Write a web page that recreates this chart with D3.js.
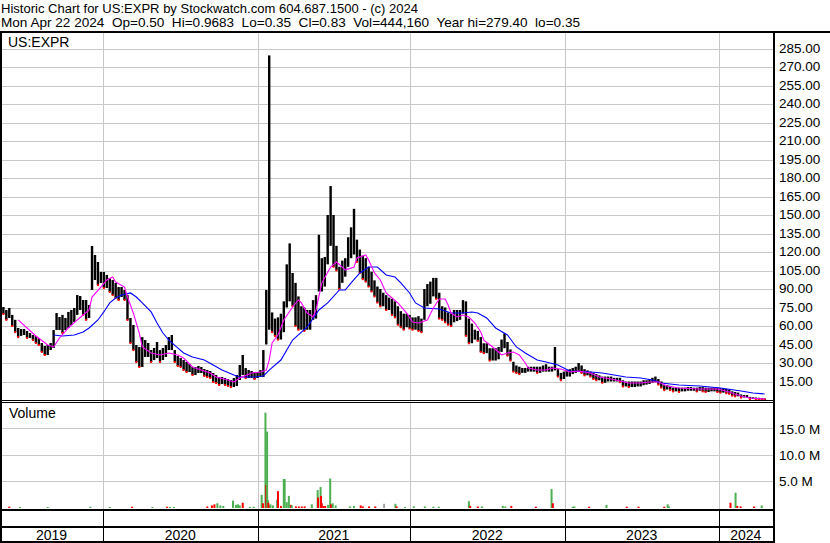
<!DOCTYPE html>
<html>
<head>
<meta charset="utf-8">
<script src="https://cdn.jsdelivr.net/npm/d3@7"></script>
<style>
  body { margin: 0; background: #fff; }
  svg { display: block; font-family: "Liberation Sans", Arial, sans-serif; }
  text { white-space: pre; }
</style>
</head>
<body>
<svg id="chart" width="830" height="543"></svg>
<script>
// header texts
const titleLine = "Historic Chart for US:EXPR by Stockwatch.com 604.687.1500 - (c) 2024";
const quoteLine = "Mon Apr 22 2024  Op=0.50  Hi=0.9683  Lo=0.35  Cl=0.83  Vol=444,160  Year hi=279.40  lo=0.35";
const symbol = "US:EXPR";

const years = [2019, 2020, 2021, 2022, 2023, 2024];
const priceTicks = [15, 30, 45, 60, 75, 90, 105, 120, 135, 150, 165, 180, 195, 210, 225, 240, 255, 270, 285];
const volTicks = [5, 10, 15];

// weekly high / low, one value per week ending Friday, May 3 2019 .. Apr 19 2024
const weekHigh = [
  77, 75.4, 73, 74.6, 69, 65, 58.4, 57.6, 57.6, 56, 54.3, 52.7, 52, 50.3, 46.2, 43.8, 44.6, 46.2, 56.8, 70.5,
  67.3, 69, 66.5, 71.4, 73, 74.6, 85.1, 84.3, 81.1, 81.1, 77, 124.9, 117.6, 111.9, 103.8, 103.8, 101.4, 98.9, 97.3, 94.9,
  91.6, 91.6, 89.2, 85.1, 66.5, 60.8, 44.6, 43, 51, 48.6, 46.2, 40.5, 42.2, 47, 40.5, 42.2, 44.6, 51, 52.7, 40.5,
  35.7, 34, 32.4, 30.8, 29.2, 26.8, 26.8, 27.6, 26.8, 25.1, 24.3, 23.5, 21.9, 20.3, 18.6, 18.6, 17.8, 17, 16.2, 17.8,
  20.3, 28.4, 36.5, 25.9, 24.3, 23.5, 22.7, 22.7, 24.3, 40.5, 89.2, 279.4, 71, 66, 67, 70, 80, 110, 127, 103,
  95, 84, 76, 75, 73, 73, 81, 85, 134, 115, 116, 150, 173.5, 150, 125, 108, 113, 115, 132, 140,
  155, 130, 122, 117, 115, 108, 104, 97, 92, 90, 87, 85, 83, 82, 80, 76, 72, 70, 70, 69,
  67, 67, 68, 66, 90, 94, 96, 99, 99, 87, 76, 75, 71, 70, 73, 73, 73, 81, 80, 66,
  62, 57, 56, 51, 46, 46, 42, 42, 42, 43, 49, 54, 47, 41, 31, 28, 27, 26, 26, 27,
  27, 27, 27, 27, 28, 29, 27, 27, 43, 25, 22, 23, 24, 25, 26, 27, 30, 28, 25, 24,
  23, 22, 21, 20, 19, 19, 19, 19, 18, 18, 18, 16, 15, 15, 15, 15, 15, 15, 16, 16,
  17, 18, 19, 17, 15, 12, 12, 11.5, 10, 10, 10, 10, 10, 10.5, 10.5, 10, 10, 10.5, 10.5, 10,
  10, 10, 10, 10, 9.5, 9.5, 9, 8.5, 7, 6.5, 6, 4.5, 4, 4, 2.5, 2.2, 2, 1.8, 1.5, 1.2
];
const weekLow = [
  70.5, 69.7, 65, 66.5, 60, 55, 51, 52, 52.7, 50.3, 50.3, 48.6, 46.2, 44.6, 39, 36.5, 36.5, 40.5, 42.2, 56.8,
  56.8, 54.3, 56.8, 58.4, 60.8, 63.2, 69, 73, 69, 65, 66.5, 89.2, 97.3, 93.2, 94.9, 90.8, 90.8, 87.6, 85.1, 82.7,
  81.1, 83.5, 81.1, 64.9, 46.2, 40.5, 30.8, 26.8, 26.8, 34.9, 34.9, 30.8, 32.4, 34, 30.8, 32.4, 34.9, 40.5, 40.5, 30.8,
  27.6, 26.8, 24.3, 22.7, 22.7, 20.3, 20.3, 21.9, 21.9, 19.5, 18.6, 17.8, 14.6, 13.8, 12.2, 13, 12.2, 11.4, 10.5, 10.5,
  11.4, 16.2, 20.3, 17.8, 17.8, 17.8, 17, 17.8, 18.6, 18.6, 45, 57, 55, 52, 49, 49, 55, 75, 80, 76,
  60, 57, 57, 56, 57, 57, 65, 66, 88, 88, 92, 110, 125, 108, 105, 90, 95, 100, 108, 115,
  118, 112, 103, 98, 96, 92, 88, 84, 79, 76, 76, 73, 73, 69, 67, 61, 59, 57, 59, 58,
  57, 57, 56, 55, 65, 76, 78, 84, 82, 66, 65, 63, 61, 60, 63, 64, 65, 70, 52, 46,
  46, 49, 48, 39, 38, 38, 32, 32, 32, 33, 39, 42, 36, 32, 23, 22, 21, 22, 22, 23,
  23, 23, 22, 22, 23, 23, 23, 23, 24, 19, 16, 17, 19, 19, 21, 22, 23, 22, 20, 20,
  19, 17, 16, 16, 14, 14, 15, 15, 15, 15, 14.5, 11, 11, 10.5, 10.5, 10.5, 11, 11, 12, 12.5,
  13, 14, 14.5, 12.5, 10, 8, 8.5, 8, 7, 7, 6.5, 7, 7, 7.5, 7.5, 7.5, 7, 7.5, 7, 6.5,
  6.5, 7, 7, 6.5, 6, 6, 5.5, 5, 3.5, 3, 3, 2, 2, 2, 0.8, 0.8, 0.7, 0.5, 0.4, 0.35
];

// moving averages: [week index, value]
const maShort = [
  [6, 64.9], [12, 51.9], [16, 44.6], [18, 43], [20, 50.3], [23, 58.4], [26, 64.9], [30, 73], [31, 83.5], [34, 91.6],
  [36, 97.3], [38, 99.7], [39, 95.7], [42, 91.6], [43, 83.5], [45, 70.5], [47, 54.3], [48, 43], [51, 38.1], [54, 36.5],
  [57, 38.1], [60, 36.5], [62, 34], [65, 26.8], [68, 24.3], [71, 21.9], [73, 18.6], [77, 16.2], [79, 14.6], [81, 17.8],
  [85, 21.9], [88, 22.7], [90, 24.3], [91, 32.4], [92, 46.2], [94, 52.7], [96, 64.9], [99, 75.4], [101, 81.1], [102, 78.7],
  [104, 70.5], [106, 67.3], [107, 73], [109, 94.9], [112, 107.8], [114, 111.9], [116, 107.8], [117, 105.4], [120, 107.8], [121, 115.1],
  [124, 117.6], [125, 113.5], [127, 103], [129, 97.3], [131, 86.8], [133, 82.7], [135, 78.7], [138, 70.5], [140, 63.2], [142, 62.4],
  [145, 64.9], [147, 74.6], [149, 81.9], [151, 81.9], [152, 77], [153, 70.5], [155, 67.3], [157, 68.9], [159, 67.3], [161, 62.4],
  [163, 55.1], [164, 48.6], [167, 43], [169, 38.9], [170, 36.5], [172, 38.1], [174, 38.9], [176, 36.5], [178, 30], [179, 25.9],
  [182, 24.3], [185, 24.3], [187, 25.9], [190, 25.1], [193, 22.7], [196, 23.5], [200, 21.9], [203, 18.6], [207, 17], [210, 15.4],
  [213, 13.8], [217, 13.8], [220, 14.6], [223, 14.6], [226, 11.4], [230, 9.7], [237, 8.9], [243, 8.9], [247, 6.5], [251, 3.2],
  [254, 1.6], [259, 0.8]
];
const maLong = [
  [18, 52.7], [21, 51.9], [25, 52.7], [28, 55.1], [30, 58.4], [33, 64.9], [35, 71.4], [37, 78.7], [39, 82.7], [41, 85.1],
  [44, 86.8], [46, 83.5], [48, 78.7], [51, 71.4], [53, 62.4], [55, 54.3], [57, 48.6], [60, 42.2], [62, 38.1], [65, 34.9],
  [69, 32.4], [72, 28.4], [75, 24.3], [79, 20.3], [81, 18.6], [86, 18.6], [89, 19.5], [91, 24.3], [95, 32.4], [99, 48.6],
  [104, 59.2], [108, 73], [111, 78.7], [115, 89.2], [117, 89.2], [119, 94.9], [122, 103], [125, 107.8], [128, 107.8], [131, 101.4],
  [134, 99.7], [136, 94.9], [139, 86.8], [141, 78.7], [144, 74.6], [149, 73.8], [153, 70.5], [157, 70.5], [160, 71.4], [162, 70.5],
  [165, 66.5], [168, 58.4], [172, 52.7], [175, 43], [178, 38.1], [182, 32.4], [185, 30.8], [189, 28.4], [193, 23.5], [200, 22.7],
  [204, 21.9], [208, 20.3], [212, 18.6], [217, 17.8], [221, 16.2], [224, 13.8], [230, 12.2], [237, 11.4], [244, 9.7], [251, 7.3],
  [255, 5.7], [259, 4.9]
];

// volume, millions of shares; kind u = up day, d = down day, n = unchanged
const volDates = [
  "2019-05-24", "2019-06-18", "2019-08-23", "2019-12-02", "2020-01-17", "2020-03-10", "2020-04-27", "2020-06-01", "2020-06-08", "2020-06-17",
  "2020-09-04", "2020-09-15", "2020-09-21", "2020-09-28", "2020-10-05", "2020-10-12", "2020-11-04", "2020-11-11", "2020-11-16", "2020-11-20",
  "2020-11-27", "2020-12-14", "2020-12-23", "2021-01-11", "2021-01-14", "2021-01-20", "2021-01-22", "2021-01-24", "2021-01-26", "2021-01-27",
  "2021-01-29", "2021-02-01", "2021-02-07", "2021-02-17", "2021-02-19", "2021-02-26", "2021-03-05", "2021-03-07", "2021-03-12", "2021-03-17",
  "2021-03-22", "2021-03-24", "2021-04-03", "2021-04-10", "2021-04-17", "2021-04-24", "2021-05-11", "2021-05-25", "2021-05-26", "2021-06-01",
  "2021-06-02", "2021-06-04", "2021-06-08", "2021-06-12", "2021-06-19", "2021-06-24", "2021-06-26", "2021-06-30", "2021-07-07", "2021-08-10",
  "2021-08-20", "2021-09-05", "2021-09-10", "2021-09-25", "2021-10-10", "2021-10-31", "2021-11-27", "2021-11-30", "2021-12-20", "2022-01-10",
  "2022-02-05", "2022-02-25", "2022-03-10", "2022-05-20", "2022-05-23", "2022-06-10", "2022-06-20", "2022-08-08", "2022-08-14", "2022-08-28",
  "2022-10-25", "2022-12-01", "2022-12-04", "2023-01-20", "2023-01-24", "2023-02-28", "2023-04-10", "2023-05-28", "2023-06-25", "2023-08-25",
  "2023-09-02", "2023-09-05", "2024-01-29", "2024-02-10", "2024-02-14", "2024-02-22", "2024-03-25", "2024-04-12"
];
const volValues = [
  0.15, 0.1, 0.1, 0.15, 0.1, 0.15, 0.1, 0.15, 0.1, 0.1,
  0.2, 0.4, 0.6, 0.8, 0.4, 0.3, 1.3, 0.5, 0.6, 0.4,
  0.9, 0.1, 0.15, 2.4, 0.8, 18.0, 4.3, 14.4, 1.4, 0.9,
  0.4, 0.6, 0.4, 1.5, 3.1, 0.3, 5.4, 5.4, 1.0, 2.2,
  0.5, 0.4, 0.2, 0.2, 0.2, 0.2, 0.6, 3.3, 1.9, 3.9,
  2.2, 0.8, 0.3, 0.3, 0.5, 5.5, 0.6, 0.8, 0.4, 0.2,
  0.3, 0.4, 0.2, 0.2, 0.2, 0.7, 0.7, 0.2, 0.1, 0.2,
  0.2, 0.15, 0.15, 1.2, 0.3, 0.2, 0.2, 0.3, 0.2, 0.3,
  0.15, 3.5, 0.8, 0.15, 0.2, 0.15, 0.5, 0.15, 0.15, 0.15,
  0.6, 0.2, 0.9, 2.8, 0.3, 0.2, 0.2, 0.4
];
const volKinds = [
  "d", "u", "u", "u", "u", "d", "u", "d", "u", "u",
  "d", "d", "d", "u", "u", "u", "u", "u", "u", "u",
  "d", "u", "u", "u", "d", "u", "d", "u", "u", "d",
  "d", "u", "u", "u", "d", "d", "u", "u", "u", "u",
  "d", "u", "d", "d", "d", "d", "u", "u", "d", "u",
  "d", "d", "d", "d", "u", "u", "d", "u", "u", "u",
  "u", "d", "d", "d", "d", "n", "u", "d", "u", "u",
  "u", "u", "u", "u", "d", "d", "u", "u", "u", "d",
  "d", "u", "d", "u", "u", "d", "u", "d", "d", "d",
  "u", "u", "d", "u", "d", "d", "d", "u"
];

const W = 830, H = 543;
const plotLeft = 2, plotRight = 773;
const priceTop = 33, priceBottom = 400;
const volBottom = 508;
const gridColor = "#c8c8c8";
const volColors = { u: "#4cb050", d: "#ff0000", n: "#a0a0a0" };
const fontSize = 13;

const svg = d3.select("#chart");
const parse = d3.timeParse("%Y-%m-%d");
const weeks = d3.timeFriday.range(new Date(2019, 4, 3), new Date(2024, 3, 20));

const yearStarts = years.slice(1).map(y => new Date(y, 0, 1));
const x = d3.scaleTime()
    .domain(yearStarts)
    .range([103, 257.5, 410, 564.7, 718.7]);

const y = d3.scaleLinear().domain([0, 285]).range([priceBottom, priceBottom - 285 * 1.2333]);
const yv = d3.scaleLinear().domain([0, 15]).range([volBottom - 0.5, volBottom - 0.5 - 15 * 5.27]);

svg.append("rect").attr("width", W).attr("height", H).attr("fill", "#fff");

// header, stretched to the widths of the original bitmap font
svg.append("text").attr("x", 1).attr("y", 12.5).attr("font-size", fontSize)
    .attr("textLength", 417).attr("lengthAdjust", "spacingAndGlyphs").text(titleLine);
svg.append("text").attr("x", 1).attr("y", 26.5).attr("font-size", fontSize)
    .attr("textLength", 579).attr("lengthAdjust", "spacingAndGlyphs").text(quoteLine);

// gridlines - price
svg.append("g")
    .attr("transform", `translate(${plotRight},0)`)
    .call(d3.axisLeft(y).tickValues(priceTicks).tickSize(plotRight - plotLeft).tickFormat(""))
    .call(g => g.select(".domain").remove())
    .call(g => g.selectAll("line").attr("stroke", gridColor).attr("shape-rendering", "crispEdges"));

// gridlines - volume
svg.append("g")
    .attr("transform", `translate(${plotRight},0)`)
    .call(d3.axisLeft(yv).tickValues(volTicks).tickSize(plotRight - plotLeft).tickFormat(""))
    .call(g => g.select(".domain").remove())
    .call(g => g.selectAll("line").attr("stroke", gridColor).attr("shape-rendering", "crispEdges"));

// vertical year gridlines
svg.append("g").selectAll("line")
    .data(yearStarts)
    .join("line")
    .attr("x1", d => Math.round(x(d)) + 0.5).attr("x2", d => Math.round(x(d)) + 0.5)
    .attr("y1", priceTop).attr("y2", 510)
    .attr("stroke", gridColor);

// price bars
const bars = weeks.map((d, i) => ({ date: d, hi: weekHigh[i], lo: weekLow[i], prevLo: i ? weekLow[i - 1] : weekLow[i] }));
svg.append("g").selectAll("rect")
    .data(bars)
    .join("rect")
    .attr("x", d => x(d.date) - 1.2)
    .attr("width", 2.4)
    .attr("y", d => y(d.hi))
    .attr("height", d => Math.max(1.5, y(d.lo) - y(d.hi)))
    .attr("fill", "#000");

// red marks on down weeks
svg.append("g").selectAll("rect")
    .data(bars.filter(d => d.lo < d.prevLo))
    .join("rect")
    .attr("x", d => x(d.date) - 1)
    .attr("y", d => y(d.lo) - 1)
    .attr("width", 2).attr("height", 2)
    .attr("fill", "#ff0000");

// moving averages
const maLine = d3.line().x(d => x(weeks[d[0]])).y(d => y(d[1]));
svg.append("path").datum(maLong).attr("d", maLine)
    .attr("fill", "none").attr("stroke", "#0000ff").attr("stroke-width", 1.1);
svg.append("path").datum(maShort).attr("d", maLine)
    .attr("fill", "none").attr("stroke", "#ff00ff").attr("stroke-width", 1.1);

// volume bars
const vols = volDates.map((d, i) => ({ date: parse(d), v: volValues[i], k: volKinds[i] }));
svg.append("g").selectAll("rect")
    .data(vols)
    .join("rect")
    .attr("x", d => x(d.date) - 1)
    .attr("width", 2)
    .attr("y", d => Math.min(yv(d.v), volBottom - 1))
    .attr("height", d => Math.max(1, volBottom - yv(d.v)))
    .attr("fill", d => volColors[d.k]);

// panel labels
svg.append("text").attr("x", 8).attr("y", 46.5).attr("font-size", fontSize + 1).text(symbol);
svg.append("text").attr("x", 9).attr("y", 417.5).attr("font-size", fontSize + 1).text("Volume");

// right axes
svg.append("g")
    .attr("transform", `translate(${plotRight},0)`)
    .call(d3.axisRight(y).tickValues(priceTicks).tickSize(0).tickPadding(6).tickFormat(d3.format(".2f")))
    .call(g => g.select(".domain").remove())
    .call(g => g.selectAll("text").attr("font-size", fontSize + 0.5).attr("font-family", null).attr("fill", "#000").attr("dy", "0.28em"));

svg.append("g")
    .attr("transform", `translate(${plotRight},0)`)
    .call(d3.axisRight(yv).tickValues(volTicks).tickSize(0).tickPadding(6).tickFormat(d => d.toFixed(1) + " M"))
    .call(g => g.select(".domain").remove())
    .call(g => g.selectAll("text").attr("font-size", fontSize + 0.5).attr("font-family", null).attr("fill", "#000").attr("dy", "0.35em"));

// frame
const frame = svg.append("g").attr("fill", "#000");
frame.append("rect").attr("x", 0).attr("y", 31).attr("width", W).attr("height", 2);
frame.append("rect").attr("x", 0).attr("y", 31).attr("width", 2).attr("height", H - 31);
frame.append("rect").attr("x", plotRight).attr("y", 31).attr("width", 2).attr("height", H - 31);
frame.append("rect").attr("x", 0).attr("y", 400).attr("width", plotRight).attr("height", 1);
frame.append("rect").attr("x", 0).attr("y", 402).attr("width", plotRight).attr("height", 1);
frame.append("rect").attr("x", 0).attr("y", 509).attr("width", plotRight).attr("height", 2);
frame.append("rect").attr("x", 0).attr("y", 526).attr("width", plotRight).attr("height", 2);
frame.append("rect").attr("x", 0).attr("y", 541).attr("width", plotRight).attr("height", 2);

// x axis rows: year separators and labels
const segEdges = [0].concat(yearStarts.map(d => x(d)), [plotRight]);
frame.selectAll(".sep")
    .data(yearStarts)
    .join("rect")
    .attr("x", d => Math.round(x(d)))
    .attr("y", 511).attr("width", 1).attr("height", 30);

svg.append("g").selectAll("text")
    .data(years)
    .join("text")
    .attr("x", (d, i) => (segEdges[i] + segEdges[i + 1]) / 2)
    .attr("y", 540)
    .attr("text-anchor", "middle")
    .attr("font-size", fontSize + 1)
    .text(d => d);
</script>
</body>
</html>
